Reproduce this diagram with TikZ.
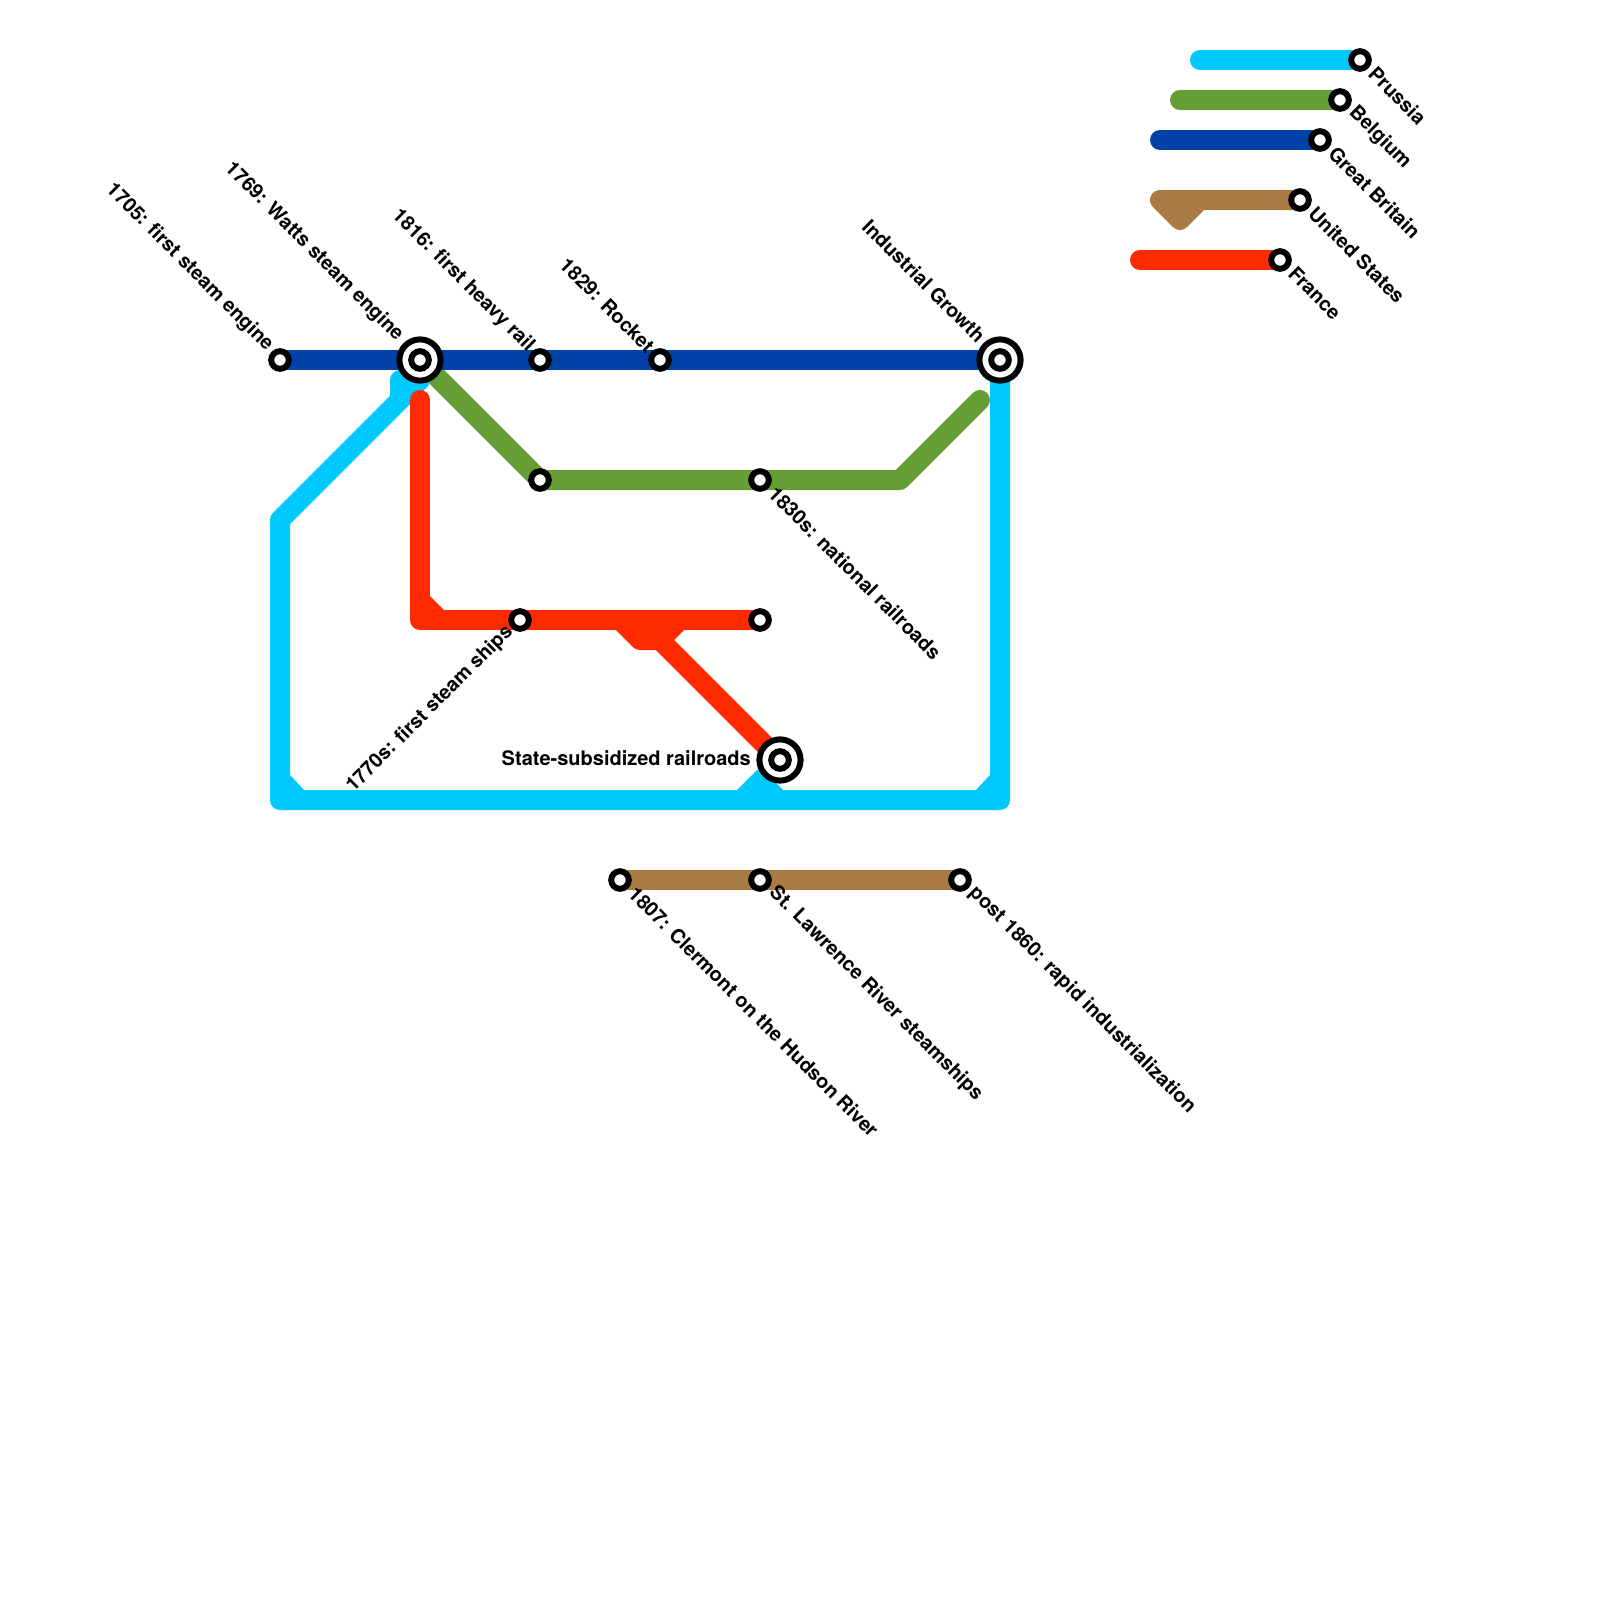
\documentclass[tikz,border=0pt]{standalone}
\usepackage{fontspec}
\setmainfont{TeX Gyre Heros}
\usetikzlibrary{backgrounds}
\definecolor{lcyan}{HTML}{00C9FF}
\definecolor{lblue}{HTML}{0041A8}
\definecolor{lgreen}{HTML}{669D35}
\definecolor{lbrown}{HTML}{A97B44}
\definecolor{lred}{HTML}{FF2A00}
\tikzset{
  stn/.style={circle,draw=black,fill=white,line width=6pt,minimum size=17.6pt,inner sep=0pt},
  bigstn/.style={circle,draw=black,fill=white,line width=6pt,minimum size=41.2pt,inner sep=0pt},
  metro/.style={line width=20pt,line cap=round,line join=round},
  txt/.style={font=\fontsize{19.8}{22}\selectfont\bfseries,inner sep=0pt,text=black},
  nw/.style={txt,rotate=-45,anchor=east},
  se/.style={txt,rotate=-45,anchor=west},
  sw/.style={txt,rotate=45,anchor=east},
  we/.style={txt,anchor=east,font=\fontsize{20}{22}\selectfont\bfseries},
}
\begin{document}
\begin{tikzpicture}[x=1pt,y=-1pt]
\useasboundingbox (0,0) rectangle (1600,1600);
% stations
\node[stn] (a1) at (280,360) {};
\node[bigstn] (watts) at (420,360) {};
\node[stn] (wattsin) at (420,360) {};
\node[stn] (rail) at (540,360) {};
\node[stn] (rocket) at (660,360) {};
\node[bigstn] (growth) at (1000,360) {};
\node[stn] (growthin) at (1000,360) {};
\node[stn] (g1) at (540,480) {};
\node[stn] (nat) at (760,480) {};
\node[stn] (ships) at (520,620) {};
\node[stn] (r2) at (760,620) {};
\node[bigstn] (state) at (780,760) {};
\node[stn] (statein) at (780,760) {};
\node[stn] (clermont) at (620,880) {};
\node[stn] (lawrence) at (760,880) {};
\node[stn] (post) at (960,880) {};
\node[stn] (lprussia) at (1360,60) {};
\node[stn] (lbelgium) at (1340,100) {};
\node[stn] (lbritain) at (1320,140) {};
\node[stn] (lus) at (1300,200) {};
\node[stn] (lfrance) at (1280,260) {};
% free ends
\coordinate (c1) at (1000,800);
\coordinate (c2) at (280,800);
\coordinate (c3) at (280,520);
\coordinate (c4) at (420,380);
\coordinate (c5) at (400,380);
\coordinate (c6) at (400,400);
\coordinate (g2) at (900,480);
\coordinate (g3) at (980,400);
\coordinate (r1) at (420,400);
\coordinate (r3) at (420,620);
\coordinate (r4) at (620,620);
\coordinate (r5) at (640,640);
\coordinate (r6) at (660,640);
\coordinate (r7) at (680,620);
\coordinate (lc) at (1200,60);
\coordinate (lg) at (1180,100);
\coordinate (lb) at (1160,140);
\coordinate (lu) at (1160,200);
\coordinate (lu2) at (1180,220);
\coordinate (lu3) at (1200,200);
\coordinate (lf) at (1140,260);
\begin{scope}[on background layer]
\draw[metro,lbrown] (clermont.center) -- (lawrence.center) -- (post.center);
\draw[metro,lbrown] (lus.center) -- (lu) -- (lu2) -- (lu3);
\draw[metro,lcyan] (growth.center) -- (c1) -- (c2) -- (c3) -- (c4) -- (c5) -- (c6);
\fill[lcyan] (290,775) -- (304,790) -- (290,790) -- cycle;
\fill[lcyan] (990,775) -- (976,790) -- (990,790) -- cycle;
\fill[lcyan] (737,790) -- (757,770) -- (763,770) -- (783,790) -- cycle;
\draw[metro,lcyan] (lc) -- (lprussia.center);
\draw[metro,lgreen] (watts.center) -- (g1.center) -- (nat.center) -- (g2) -- (g3);
\draw[metro,lgreen] (lg) -- (lbelgium.center);
\draw[metro,lblue] (a1.center) -- (watts.center) -- (rail.center) -- (rocket.center) -- (growth.center);
\draw[metro,lblue] (lb) -- (lbritain.center);
\draw[metro,lred] (r1) -- (r3) -- (ships.center) -- (r2.center);
\fill[lred] (430,596) -- (444,610) -- (430,610) -- cycle;
\draw[metro,lred] (r4) -- (r5) -- (r6) -- (r7);
\draw[metro,lred] (r6) -- (state.center);
\draw[metro,lred] (lf) -- (lfrance.center);
\end{scope}
% labels
\node[nw] (t1) at (270,348) {1705: first steam engine};
\node[nw] (t2) at (400,338) {1769: Watts steam engine};
\node[nw] (t3) at (531,349) {1816: first heavy rail};
\node[nw] (t4) at (651,349) {1829: Rocket};
\node[nw] (t5) at (982,339) {Industrial Growth};
\node[se] (t6) at (772,490) {1830s: national railroads};
\node[sw] (t7) at (510,629) {1770s: first steam ships};
\node[we] (t8) at (751,758) {State-subsidized railroads};
\node[se] (t9) at (632,890) {1807: Clermont on the Hudson River};
\node[se] (t10) at (772,890) {St. Lawrence River steamships};
\node[se] (t11) at (972,890) {post 1860: rapid industrialization};
\node[se] (t12) at (1372,70) {Prussia};
\node[se] (t13) at (1352,110) {Belgium};
\node[se] (t14) at (1332,150) {Great Britain};
\node[se] (t15) at (1312,210) {United States};
\node[se] (t16) at (1292,270) {France};
\end{tikzpicture}
\end{document}
